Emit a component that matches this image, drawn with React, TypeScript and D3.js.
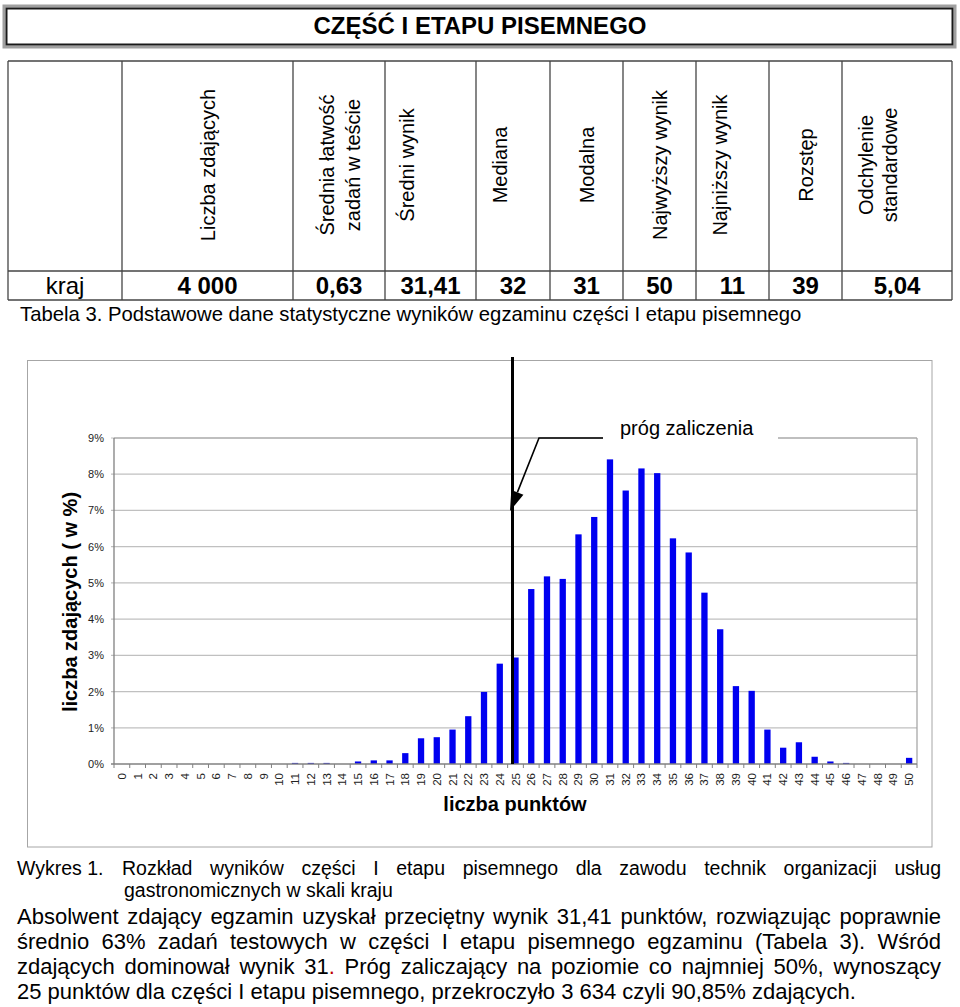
import React, { useMemo } from 'react';
import * as d3 from 'd3';

// ---------- DATA ----------
const title = 'CZĘŚĆ I ETAPU PISEMNEGO';
const tableHeaders = [
  'Liczba zdających',
  'Średnia łatwość\nzadań w teście',
  'Średni wynik',
  'Mediana',
  'Modalna',
  'Najwyższy wynik',
  'Najniższy wynik',
  'Rozstęp',
  'Odchylenie\nstandardowe',
];
const tableRowLabel = 'kraj';
const tableValues = ['4 000', '0,63', '31,41', '32', '31', '50', '11', '39', '5,04'];
const tableCaption = 'Tabela 3. Podstawowe dane statystyczne wyników egzaminu części I etapu pisemnego';

const points = [
  '0', '1', '2', '3', '4', '5', '6', '7', '8', '9', '10', '11', '12', '13', '14', '15', '16', '17',
  '18', '19', '20', '21', '22', '23', '24', '25', '26', '27', '28', '29', '30', '31', '32', '33', '34',
  '35', '36', '37', '38', '39', '40', '41', '42', '43', '44', '45', '46', '47', '48', '49', '50',
];
const shares = [
  0, 0, 0, 0, 0, 0, 0, 0, 0, 0, 0, 0.03, 0.03, 0.03, 0, 0.07, 0.1, 0.1, 0.3, 0.71, 0.74, 0.95, 1.32,
  1.99, 2.77, 2.94, 4.83, 5.18, 5.11, 6.34, 6.82, 8.41, 7.55, 8.16, 8.03, 6.23, 5.84, 4.73, 3.72,
  2.15, 2.02, 0.95, 0.45, 0.6, 0.2, 0.07, 0.03, 0, 0, 0, 0.17,
];
const yTicks = [0, 1, 2, 3, 4, 5, 6, 7, 8, 9];
const threshold = '25';
const thresholdLabel = 'próg zaliczenia';
const yTitle = 'liczba zdających ( w %)';
const xTitle = 'liczba punktów';

const captionLead = 'Wykres 1.';
const captionLines = [
  'Rozkład wyników części I etapu pisemnego dla zawodu technik organizacji usług',
  'gastronomicznych w skali kraju',
];
const paragraphLines = [
  'Absolwent zdający egzamin uzyskał przeciętny wynik 31,41 punktów, rozwiązując poprawnie',
  'średnio 63% zadań testowych w części I etapu pisemnego egzaminu (Tabela 3). Wśród',
  'zdających dominował wynik 31. Próg zaliczający na poziomie co najmniej 50%, wynoszący',
  '25 punktów dla części I etapu pisemnego, przekroczyło 3 634 czyli 90,85% zdających.',
];

// ---------- LAYOUT ----------
const FONT = "'Liberation Sans', Arial, sans-serif";
const colX = [8, 122, 293, 385, 476, 550, 623, 696, 769, 842, 952];
const rowY = [61, 271, 300];
const headerLineX = [[208], [327, 353], [407], [500], [587], [660], [720], [806], [866, 890]];
const plot = { left: 114, right: 917, top: 438, bottom: 764 };

let _ctx: CanvasRenderingContext2D | null = null;
function measure(text: string, font: string) {
  if (!_ctx) _ctx = document.createElement('canvas').getContext('2d');
  _ctx!.font = font;
  return _ctx!.measureText(text).width;
}

function JustifiedLine({ text, x0, x1, y, size, justify, redDot }: any) {
  const font = `${size}px ${FONT}`;
  const words = text.split(' ');
  const widths = words.map((w: string) => measure(w, font));
  const total = d3.sum(widths);
  const gap = justify && words.length > 1 ? (x1 - x0 - total) / (words.length - 1) : measure(' ', font);
  let x = x0;
  return (
    <g>
      {words.map((w: string, i: number) => {
        const xi = x;
        x += widths[i] + gap;
        if (redDot && w === redDot) {
          return (
            <text key={i} x={xi} y={y} fontSize={size} fontFamily={FONT}>
              {w.slice(0, -1)}
              <tspan fill="#c00000">.</tspan>
            </text>
          );
        }
        return (
          <text key={i} x={xi} y={y} fontSize={size} fontFamily={FONT}>
            {w}
          </text>
        );
      })}
    </g>
  );
}

export default function App() {
  const xOuter = useMemo(() => d3.scaleBand<string>().domain(points).range([plot.left, plot.right]), []);
  const x = useMemo(
    () => d3.scaleBand<string>().domain(points).range([plot.left, plot.right]).paddingInner(0.6).paddingOuter(0.3),
    []
  );
  const y = useMemo(() => d3.scaleLinear().domain([0, 9]).range([plot.bottom, plot.top]), []);
  const step = xOuter.step();
  const thrX = (xOuter(threshold) as number) + step / 2 - 3;

  // callout geometry
  const cStart = [603, plot.top];
  const cElbow = [539, plot.top];
  const cTip = [thrX - 2.5, 511];
  const dx = cTip[0] - cElbow[0];
  const dy = cTip[1] - cElbow[1];
  const len = Math.hypot(dx, dy);
  const ux = dx / len, uy = dy / len;
  const aL = 20, aW = 6.5;
  const bx = cTip[0] - ux * aL, by = cTip[1] - uy * aL;
  const head = `${cTip[0]},${cTip[1]} ${bx + uy * aW},${by - ux * aW} ${bx - uy * aW},${by + ux * aW}`;
  const lineEnd = [bx, by];

  const capBase = [875, 897];
  const parBase = [923.5, 948.5, 973.5, 998.5];

  return (
    <svg width={960} height={1007} style={{ position: 'absolute', left: 0, top: 0 }} fontFamily={FONT}>
      <rect width={960} height={1007} fill="#fff" />
      {/* title box */}
      <rect x={4} y={6} width={951} height={41} fill="#fff" stroke="#a0a0a0" strokeWidth={3} />
      <rect x={6.5} y={8.5} width={946} height={36} fill="none" stroke="#1a1a1a" strokeWidth={2} />
      <text x={480} y={34} textAnchor="middle" fontSize={24} fontWeight="bold">
        {title}
      </text>

      {/* table */}
      <g stroke="#444" strokeWidth={1.3}>
        {rowY.map((ry, i) => (
          <line key={'h' + i} x1={colX[0]} x2={colX[colX.length - 1]} y1={ry} y2={ry} />
        ))}
        {colX.map((cx, i) => (
          <line key={'v' + i} x1={cx} x2={cx} y1={rowY[0]} y2={rowY[2]} />
        ))}
      </g>
      {tableHeaders.map((h, i) =>
        h.split('\n').map((ln, j) => (
          <text
            key={i + '-' + j}
            transform={`translate(${headerLineX[i][j]},165) rotate(-90)`}
            textAnchor="middle"
            dominantBaseline="central"
            fontSize={20}
          >
            {ln}
          </text>
        ))
      )}
      <text x={(colX[0] + colX[1]) / 2} y={294} textAnchor="middle" fontSize={24}>
        {tableRowLabel}
      </text>
      {tableValues.map((v, i) => (
        <text key={i} x={(colX[i + 1] + colX[i + 2]) / 2} y={294} textAnchor="middle" fontSize={24} fontWeight="bold">
          {v}
        </text>
      ))}
      <text x={20} y={321} fontSize={20.3}>
        {tableCaption}
      </text>

      {/* chart frame */}
      <rect x={27.5} y={360.5} width={904.5} height={486.5} fill="#fff" stroke="#a6a6a6" strokeWidth={1} />

      {/* gridlines */}
      {yTicks.slice(1).map((t) => (
        <line key={t} x1={plot.left - 3} x2={plot.right} y1={y(t)} y2={y(t)} stroke="#c0c0c0" strokeWidth={1.2} />
      ))}
      <line x1={plot.right} x2={plot.right} y1={plot.top} y2={plot.bottom} stroke="#a0a0a0" strokeWidth={1.2} />
      <line x1={plot.left} x2={plot.right} y1={plot.top} y2={plot.top} stroke="#a0a0a0" strokeWidth={1.2} />

      {/* bars */}
      {points.map((p, i) =>
        shares[i] > 0 ? (
          <rect key={p} x={x(p)} y={y(shares[i])} width={x.bandwidth()} height={y(0) - y(shares[i])} fill="#0000f0" />
        ) : null
      )}

      {/* axes */}
      <line x1={plot.left} x2={plot.left} y1={plot.top} y2={plot.bottom} stroke="#808080" strokeWidth={1.3} />
      <line x1={plot.left - 3} x2={plot.right} y1={plot.bottom} y2={plot.bottom} stroke="#808080" strokeWidth={1.3} />
      {points.concat(['__end']).map((p, i) => {
        const bxp = plot.left + i * step;
        return <line key={'t' + i} x1={bxp} x2={bxp} y1={plot.bottom} y2={plot.bottom + 4} stroke="#808080" strokeWidth={1} />;
      })}
      {yTicks.map((t) => (
        <text key={t} x={104} y={y(t)} textAnchor="end" dominantBaseline="central" fontSize={11} fill="#222">
          {t}%
        </text>
      ))}
      {points.map((p) => (
        <text
          key={p}
          transform={`translate(${(xOuter(p) as number) + step / 2},773) rotate(-90)`}
          textAnchor="end"
          dominantBaseline="central"
          fontSize={11.5}
          fill="#222"
        >
          {p}
        </text>
      ))}
      <text x={515} y={811} textAnchor="middle" fontSize={20} fontWeight="bold">
        {xTitle}
      </text>
      <text transform="translate(70,602) rotate(-90)" textAnchor="middle" dominantBaseline="central" fontSize={20} fontWeight="bold">
        {yTitle}
      </text>

      {/* threshold */}
      <line x1={thrX} x2={thrX} y1={357} y2={plot.bottom} stroke="#000" strokeWidth={3} />
      <rect x={603} y={416} width={175} height={26} fill="#fff" />
      <polyline
        points={`${cStart[0]},${cStart[1]} ${cElbow[0]},${cElbow[1]} ${lineEnd[0]},${lineEnd[1]}`}
        fill="none"
        stroke="#000"
        strokeWidth={1.6}
      />
      <polygon points={head} fill="#000" />
      <text x={620} y={435} fontSize={20}>
        {thresholdLabel}
      </text>

      {/* body text */}
      <text x={17} y={capBase[0]} fontSize={19.5}>
        {captionLead}
      </text>
      <JustifiedLine text={captionLines[0]} x0={122} x1={941} y={capBase[0]} size={19.5} justify />
      <JustifiedLine text={captionLines[1]} x0={124} x1={941} y={capBase[1]} size={19.5} justify={false} />
      {paragraphLines.map((ln, i) => (
        <JustifiedLine
          key={i}
          text={ln}
          x0={17}
          x1={941}
          y={parBase[i]}
          size={22}
          justify={i < paragraphLines.length - 1}
          redDot={i === 2 ? '31.' : undefined}
        />
      ))}
    </svg>
  );
}
